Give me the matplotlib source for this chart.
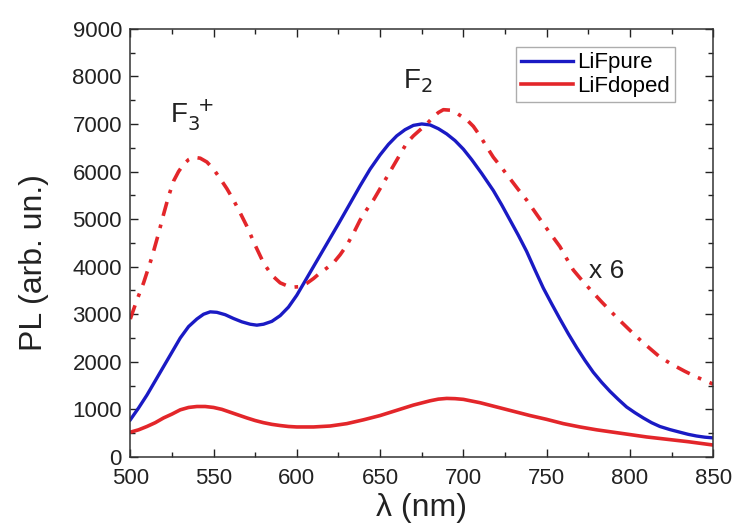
import numpy as np
import matplotlib.pyplot as plt
from matplotlib.ticker import MultipleLocator

plt.rcParams['font.family'] = ['Liberation Sans', 'DejaVu Sans']

# LiF pure
wl_pure = [500, 505, 510, 515, 520, 525, 530, 535, 540, 544, 548, 552, 557, 562, 567,
           572, 576, 580, 585, 590, 595, 600, 605, 610, 615, 620, 625, 632, 638, 644,
           650, 655, 660, 665, 670, 675, 680, 685, 690, 695, 700, 705, 711, 718, 723,
           728, 733, 738, 743, 748, 753, 758, 763, 768, 773, 778, 783, 788, 793, 798,
           803, 808, 813, 818, 824, 830, 835, 840, 845, 850]
pl_pure = [780, 1030, 1300, 1600, 1900, 2200, 2500, 2740, 2900, 3000, 3050, 3040, 2990,
           2910, 2840, 2790, 2770, 2790, 2850, 2970, 3150, 3400, 3700, 4000, 4300, 4600,
           4900, 5330, 5700, 6050, 6350, 6570, 6750, 6880, 6970, 7000, 6980, 6900, 6790,
           6650, 6470, 6250, 5960, 5600, 5300, 4980, 4660, 4320, 3930, 3550, 3220, 2900,
           2590, 2300, 2030, 1780, 1570, 1380, 1210, 1050, 930, 820, 720, 640, 575, 520,
           475, 440, 415, 400]

# LiF doped
wl_doped = [500, 505, 510, 515, 520, 525, 530, 535, 540, 545, 550, 555, 560, 565, 570,
            575, 580, 585, 590, 595, 600, 610, 620, 630, 640, 650, 660, 670, 680, 685,
            690, 695, 700, 710, 720, 730, 740, 750, 760, 770, 780, 790, 800, 810, 820,
            835, 850]
pl_doped = [520, 570, 640, 720, 820, 900, 990, 1040, 1060, 1060, 1040, 1000, 940, 880,
            820, 765, 720, 685, 660, 640, 630, 630, 650, 700, 780, 870, 980, 1090, 1180,
            1215, 1230, 1225, 1210, 1140, 1050, 960, 870, 790, 700, 630, 570, 520, 470,
            420, 380, 320, 250]

# LiF doped x 6
wl_x6 = [500, 504, 508, 513, 517, 520, 523, 526, 529, 532, 535, 538, 542, 546, 550, 554,
         558, 562, 566, 570, 575, 580, 585, 590, 594, 598, 602, 606, 610, 614, 618, 622,
         626, 630, 634, 638, 642, 646, 651, 656, 661, 666, 670, 674, 678, 682, 685, 688,
         692, 695, 698, 702, 706, 710, 714, 718, 723, 728, 733, 738, 743, 748, 753, 758,
         762, 766, 772, 778, 783, 788, 793, 798, 803, 808, 813, 818, 825, 833, 840, 848,
         850]
pl_x6 = [2900, 3300, 3660, 4200, 4700, 5100, 5480, 5800, 6000, 6150, 6250, 6300, 6280,
         6200, 6050, 5850, 5640, 5400, 5130, 4850, 4450, 4080, 3820, 3660, 3600, 3570,
         3580, 3650, 3750, 3870, 3970, 4080, 4250, 4450, 4700, 4980, 5200, 5400, 5700,
         6000, 6300, 6600, 6750, 6875, 7000, 7150, 7240, 7300, 7290, 7250, 7180, 7090,
         6950, 6750, 6520, 6300, 6080, 5850, 5620, 5400, 5150, 4900, 4660, 4420, 4170,
         3930, 3680, 3450, 3260, 3080, 2900, 2730, 2560, 2400, 2250, 2100, 1950, 1800,
         1680, 1560, 1530]

blue = '#1a1ac4'
red = '#e3262a'
ink = '#222222'

fig, ax = plt.subplots(figsize=(7.36, 5.24), dpi=100)
fig.subplots_adjust(left=0.177, right=0.969, top=0.945, bottom=0.128)

ax.plot(wl_pure, pl_pure, color=blue, lw=2.4, label='LiFpure')
ax.plot(wl_doped, pl_doped, color=red, lw=2.6, label='LiFdoped')
ax.plot(wl_x6, pl_x6, color=red, lw=2.6, linestyle=(0, (4, 2.5, 1, 2.5)))

ax.set_xlim(500, 850)
ax.set_ylim(0, 9000)
ax.xaxis.set_major_locator(MultipleLocator(50))
ax.xaxis.set_minor_locator(MultipleLocator(25))
ax.yaxis.set_major_locator(MultipleLocator(1000))
ax.yaxis.set_minor_locator(MultipleLocator(500))
ax.tick_params(which='both', direction='in', top=True, right=True, labelsize=16, colors=ink)
ax.tick_params(axis='x', pad=8)
ax.tick_params(axis='y', pad=6)
ax.tick_params(which='major', length=6, width=1)
ax.tick_params(which='minor', length=3.5, width=1)
for s in ax.spines.values():
    s.set_linewidth(1.1)
    s.set_color('#333333')

ax.set_xlabel('λ (nm)', fontsize=23, color=ink)
ax.set_ylabel('PL (arb. un.)', fontsize=23, color=ink)
ax.xaxis.set_label_coords(0.5, -0.085)
ax.yaxis.set_label_coords(-0.14, 0.455)

ax.text(524, 7020, r'F$_3^{\ +}$', fontsize=20, ha='left', color=ink)
ax.text(664, 7760, r'F$_2$', fontsize=20, ha='left', color=ink)
ax.text(786, 3760, 'x 6', fontsize=19, ha='center', color=ink)

leg = ax.legend(loc='upper right', bbox_to_anchor=(0.935, 0.958), fontsize=16,
                fancybox=False, edgecolor='#999999', handlelength=2.3,
                borderpad=0.25, labelspacing=0.1, handletextpad=0.2, borderaxespad=0)
leg.get_frame().set_linewidth(1)

fig.savefig('out.png', dpi=100)
